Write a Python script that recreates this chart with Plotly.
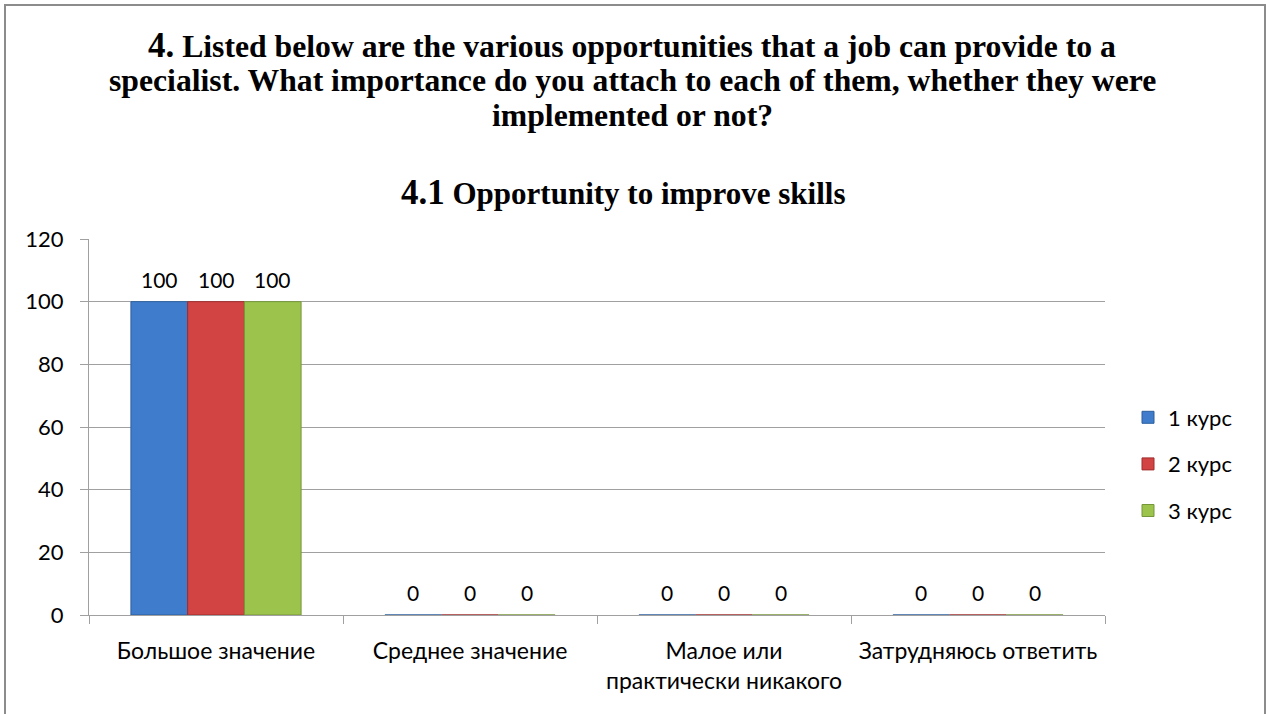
import plotly.graph_objects as go

categories = ["Большое значение", "Среднее значение", "Малое или<br>практически никакого", "Затрудняюсь ответить"]
series_names = ["1 курс", "2 курс", "3 курс"]
values_1 = [100, 0, 0, 0]
values_2 = [100, 0, 0, 0]
values_3 = [100, 0, 0, 0]
y_ticks = [0, 20, 40, 60, 80, 100, 120]

colors = ["#3f7dcc", "#d24343", "#9cc44c"]
lines = ["#2c5f9e", "#a02c2c", "#76963a"]
SANS = "Lato, Carlito, sans-serif"
SERIF = "Liberation Serif, Times New Roman, serif"

PLOT_W = 1016
BARGAP = 0.33
bar_px = PLOT_W / len(categories) * (1 - BARGAP) / len(series_names)

fig = go.Figure()
all_vals = [values_1, values_2, values_3]
for i, (name, vals) in enumerate(zip(series_names, all_vals)):
    fig.add_trace(go.Bar(
        x=categories, y=vals, name=name,
        marker=dict(color=colors[i], line=dict(color=lines[i], width=1)),
        legendgroup=name, hoverinfo="skip",
    ))
    for cat, v in zip(categories, vals):
        fig.add_annotation(x=cat, y=v, text=str(v), showarrow=False,
                           xshift=(i - (len(series_names) - 1) / 2) * bar_px,
                           yanchor="bottom", yshift=8,
                           font=dict(family=SANS, size=21, color="#000"))

fig.update_layout(
    width=1270, height=714,
    margin=dict(l=89, r=165, t=239, b=99),
    paper_bgcolor="white", plot_bgcolor="white",
    barmode="group", bargap=BARGAP, bargroupgap=0,
    showlegend=True,
    legend=dict(x=(1128 - 89) / PLOT_W, y=(615 - 464) / 376, xanchor="left", yanchor="middle",
                font=dict(family=SANS, size=22, color="#000"),
                tracegroupgap=15, traceorder="grouped", itemwidth=30),
    font=dict(family=SANS, size=21, color="#000"),
)
fig.update_yaxes(range=[0, 120], tickvals=y_ticks, showgrid=True, gridcolor="#a0a0a0", gridwidth=1,
                 showline=True, linecolor="#a0a0a0", ticks="outside", ticklen=8, tickcolor="#a0a0a0",
                 zeroline=False, tickfont=dict(size=22), ticklabelstandoff=12, fixedrange=True)
fig.update_xaxes(showline=True, linecolor="#a0a0a0", ticks="outside", ticklen=8, tickcolor="#a0a0a0",
                 tickson="boundaries", tickfont=dict(size=23), ticklabelstandoff=15, fixedrange=True)

H = 714 - 239 - 99
title_lines = ["<span style='font-size:35px'>4.</span> Listed below are the various opportunities that a job can provide to a",
               "specialist. What importance do you attach to each of them, whether they were",
               "implemented or not?"]
for t, yy in zip(title_lines, [45, 80, 115]):
    fig.add_annotation(text="<b>" + t + "</b>", xref="paper", yref="paper",
                       x=(632 - 89) / PLOT_W, y=1 + (239 - yy) / H,
                       showarrow=False, xanchor="center", yanchor="middle",
                       font=dict(family=SERIF, size=31.7, color="#000"))
fig.add_annotation(text="<b><span style='font-size:35px'>4.1</span> Opportunity to improve skills</b>",
                   xref="paper", yref="paper", x=(623 - 89) / PLOT_W, y=1 + (239 - 192) / H,
                   showarrow=False, xanchor="center", yanchor="middle",
                   font=dict(family=SERIF, size=31, color="#000"))

fig.add_shape(type="rect", xref="paper", yref="paper",
              x0=(5 - 89) / PLOT_W, x1=(1265 - 89) / PLOT_W,
              y0=1 + (239 - 730) / H, y1=1 + (239 - 5) / H,
              line=dict(color="#8c8c8c", width=2), fillcolor="rgba(0,0,0,0)", layer="below")

fig.write_html("out.html", config={"displayModeBar": False},
               post_script="document.body.style.margin='0';")
